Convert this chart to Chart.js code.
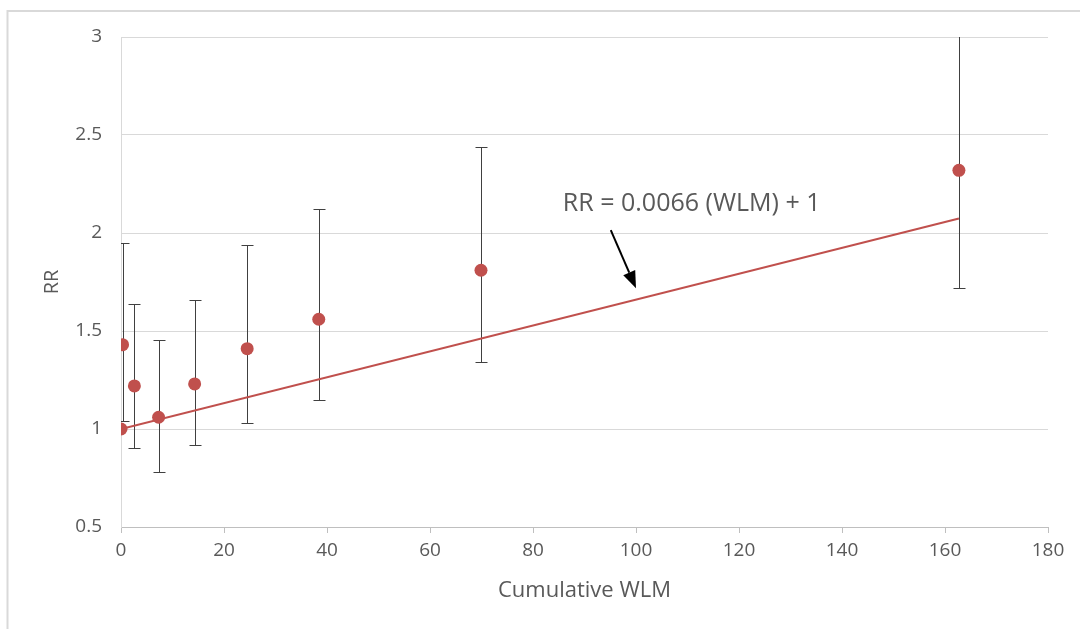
<!DOCTYPE html>
<html>
<head>
<meta charset="utf-8">
<script src="https://cdn.jsdelivr.net/npm/chart.js@4/dist/chart.umd.min.js"></script>
<style>
    body { margin: 0; background: #ffffff; }
    #chart { display: block; }
</style>
</head>
<body>
<canvas id="chart" width="1080" height="629"></canvas>
<script>
// cumulative exposure (WLM) and relative risk
var wlm = [0, 0.3, 2.6, 7.3, 14.3, 24.5, 38.4, 69.9, 162.7];
var rr = [1.0, 1.43, 1.22, 1.06, 1.23, 1.41, 1.56, 1.81, 2.32];
var ciLow = [null, 1.04, 0.905, 0.78, 0.92, 1.03, 1.15, 1.34, 1.72];
var ciHigh = [null, 1.95, 1.64, 1.455, 1.66, 1.94, 2.12, 2.44, 3.3];

// fitted line RR = 0.0066 (WLM) + 1
var trendX = [0, 162.7];
var trendY = [1, 2.074];

var xTicks = [0, 20, 40, 60, 80, 100, 120, 140, 160, 180];
var yTicks = [0.5, 1, 1.5, 2, 2.5, 3];

var noteText = 'RR = 0.0066 (WLM) + 1';
var notePos = [85.8, 2.148];
var arrowFrom = [95.1, 2.015];
var arrowTo = [100, 1.718];

var red = '#c0504d';
var textGrey = '#595959';
var fontName = "'Open Sans', sans-serif";

function toPoints(xs, ys) {
    var pts = [];
    for (var i = 0; i < xs.length; i++) {
        pts.push({x: xs[i], y: ys[i]});
    }
    return pts;
}

var framePlugin = {
    id: 'frame',
    beforeDraw: function(chart) {
        var ctx = chart.ctx;
        ctx.save();
        ctx.fillStyle = '#ffffff';
        ctx.fillRect(0, 0, chart.width, chart.height);
        ctx.strokeStyle = '#d9d9d9';
        ctx.lineWidth = 2;
        ctx.beginPath();
        ctx.moveTo(7.5, chart.height);
        ctx.lineTo(7.5, 11);
        ctx.lineTo(chart.width, 11);
        ctx.stroke();
        ctx.restore();
    }
};

var errorBarPlugin = {
    id: 'errorBars',
    beforeDatasetsDraw: function(chart) {
        var ctx = chart.ctx;
        var xs = chart.scales.x;
        var ys = chart.scales.y;
        var area = chart.chartArea;
        ctx.save();
        ctx.beginPath();
        ctx.rect(area.left, area.top, area.right - area.left, area.bottom - area.top);
        ctx.clip();
        ctx.strokeStyle = '#404040';
        ctx.lineWidth = 1;
        for (var i = 0; i < wlm.length; i++) {
            if (ciLow[i] === null) continue;
            var px = Math.round(xs.getPixelForValue(wlm[i])) + 0.5;
            var top = Math.round(ys.getPixelForValue(ciHigh[i])) + 0.5;
            var bot = Math.round(ys.getPixelForValue(ciLow[i])) + 0.5;
            ctx.beginPath();
            ctx.moveTo(px, top);
            ctx.lineTo(px, bot);
            ctx.moveTo(px - 6, top);
            ctx.lineTo(px + 6, top);
            ctx.moveTo(px - 6, bot);
            ctx.lineTo(px + 6, bot);
            ctx.stroke();
        }
        ctx.restore();
    }
};

var notePlugin = {
    id: 'note',
    afterDatasetsDraw: function(chart) {
        var ctx = chart.ctx;
        var xs = chart.scales.x;
        var ys = chart.scales.y;
        ctx.save();
        ctx.fillStyle = textGrey;
        ctx.font = '25px ' + fontName;
        ctx.textAlign = 'left';
        ctx.textBaseline = 'middle';
        ctx.fillText(noteText, xs.getPixelForValue(notePos[0]), ys.getPixelForValue(notePos[1]));

        var x1 = xs.getPixelForValue(arrowFrom[0]);
        var y1 = ys.getPixelForValue(arrowFrom[1]);
        var x2 = xs.getPixelForValue(arrowTo[0]);
        var y2 = ys.getPixelForValue(arrowTo[1]);
        var ang = Math.atan2(y2 - y1, x2 - x1);
        var headLen = 17;
        var headW = 6.5;
        var bx = x2 - headLen * Math.cos(ang);
        var by = y2 - headLen * Math.sin(ang);
        ctx.strokeStyle = '#000000';
        ctx.fillStyle = '#000000';
        ctx.lineWidth = 2;
        ctx.beginPath();
        ctx.moveTo(x1, y1);
        ctx.lineTo(bx, by);
        ctx.stroke();
        ctx.beginPath();
        ctx.moveTo(x2, y2);
        ctx.lineTo(bx + headW * Math.sin(ang), by - headW * Math.cos(ang));
        ctx.lineTo(bx - headW * Math.sin(ang), by + headW * Math.cos(ang));
        ctx.closePath();
        ctx.fill();
        ctx.restore();
    }
};

var ctx = document.getElementById('chart').getContext('2d');
var myChart = new Chart(ctx, {
    type: 'scatter',
    data: {
        datasets: [{
            label: 'RR',
            data: toPoints(wlm, rr),
            pointRadius: 6.5,
            pointHoverRadius: 6.5,
            pointBackgroundColor: red,
            pointBorderWidth: 0,
            borderColor: red,
            order: 1
        }, {
            type: 'line',
            label: 'Fit',
            data: toPoints(trendX, trendY),
            borderColor: red,
            borderWidth: 2,
            pointRadius: 0,
            fill: false,
            order: 2
        }]
    },
    options: {
        responsive: false,
        animation: false,
        layout: {
            padding: {top: 37, right: 32, left: 0, bottom: 0}
        },
        plugins: {
            legend: {display: false},
            tooltip: {enabled: false}
        },
        scales: {
            x: {
                type: 'linear',
                min: 0,
                max: 180,
                afterBuildTicks: function(scale) {
                    scale.ticks = xTicks.map(function(v) { return {value: v}; });
                },
                afterFit: function(scale) { scale.height = 102; },
                grid: {
                    drawOnChartArea: false,
                    drawTicks: true,
                    tickLength: 6,
                    color: '#bfbfbf'
                },
                border: {color: '#bfbfbf', width: 1},
                ticks: {
                    color: textGrey,
                    font: {family: fontName, size: 19},
                    padding: 6,
                    maxRotation: 0,
                    callback: function(value) { return String(value); }
                },
                title: {
                    display: true,
                    text: 'Cumulative WLM',
                    color: textGrey,
                    font: {family: fontName, size: 22},
                    padding: {top: 4, bottom: 25}
                }
            },
            y: {
                type: 'linear',
                min: 0.5,
                max: 3,
                afterBuildTicks: function(scale) {
                    scale.ticks = yTicks.map(function(v) { return {value: v}; });
                },
                afterFit: function(scale) { scale.width = 121; },
                grid: {
                    color: '#d9d9d9',
                    drawTicks: false
                },
                border: {color: '#d9d9d9', width: 1},
                ticks: {
                    color: textGrey,
                    font: {family: fontName, size: 19},
                    padding: 19,
                    callback: function(value) { return String(value); }
                },
                title: {
                    display: true,
                    text: 'RR',
                    color: textGrey,
                    font: {family: fontName, size: 20},
                    padding: {top: 40, bottom: 0}
                }
            }
        }
    },
    plugins: [framePlugin, errorBarPlugin, notePlugin]
});
</script>
</body>
</html>
